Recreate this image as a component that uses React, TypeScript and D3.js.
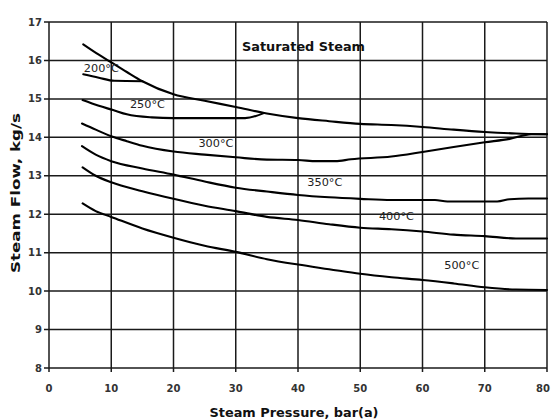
import React from "react";
import * as d3 from "d3";

type Pt = [number, number];

const xTicks = [0, 10, 20, 30, 40, 50, 60, 70, 80];
const yTicks = [8, 9, 10, 11, 12, 13, 14, 15, 16, 17];

const saturated: Pt[] = [
  [5.5, 16.42], [8, 16.15], [10, 15.95], [12.5, 15.7], [15, 15.46], [20, 15.12],
  [25, 14.95], [30, 14.79], [35, 14.62], [40, 14.5], [45, 14.42], [50, 14.35],
  [55, 14.32], [60, 14.27], [65, 14.2], [70, 14.14], [75, 14.1], [80, 14.08],
];
const t200: Pt[] = [[5.5, 15.64], [8, 15.55], [10.5, 15.47], [15, 15.46]];
const t250: Pt[] = [
  [5.4, 14.97], [8, 14.82], [10.3, 14.71], [12.5, 14.6], [16.5, 14.52], [20, 14.5],
  [25, 14.5], [31.5, 14.5], [34.5, 14.63],
];
const t300: Pt[] = [
  [5.3, 14.36], [7.5, 14.2], [10, 14.03], [12.5, 13.9], [15, 13.78], [20, 13.63],
  [25, 13.55], [30, 13.48], [35, 13.42], [40, 13.41], [43, 13.38], [46, 13.38],
  [48.5, 13.43], [55, 13.5], [60, 13.62], [65, 13.75], [70, 13.87], [74, 13.96],
  [77.5, 14.08], [80, 14.08],
];
const t350: Pt[] = [
  [5.3, 13.77], [7.5, 13.55], [10, 13.38], [15, 13.19], [20, 13.03], [25, 12.85],
  [30, 12.69], [35, 12.59], [40, 12.5], [45, 12.44], [50, 12.4], [55, 12.37],
  [62, 12.37], [64, 12.33], [72, 12.33], [74, 12.39], [77, 12.41], [80, 12.41],
];
const t400: Pt[] = [
  [5.4, 13.22], [7.5, 13.0], [10, 12.83], [15, 12.6], [20, 12.4], [25, 12.22],
  [30, 12.08], [35, 11.93], [40, 11.85], [45, 11.74], [50, 11.65], [55, 11.61],
  [60, 11.55], [65, 11.47], [70, 11.43], [75, 11.37], [80, 11.37],
];
const t500: Pt[] = [
  [5.4, 12.28], [7.5, 12.08], [10, 11.93], [15, 11.63], [20, 11.39], [25, 11.18],
  [30, 11.02], [35, 10.83], [40, 10.69], [45, 10.57], [50, 10.45], [55, 10.36],
  [60, 10.29], [65, 10.2], [70, 10.1], [75, 10.04], [80, 10.03],
];

const seriesList: Pt[][] = [saturated, t200, t250, t300, t350, t400, t500];

const curveLabels = ["200°C", "250°C", "300°C", "350°C", "400°C", "500°C"];
const curveLabelPos: Pt[] = [
  [5.6, 15.7], [13, 14.77], [24, 13.76], [41.5, 12.73], [53, 11.85], [63.5, 10.57],
];

const chartTitle = "Saturated Steam";
const xTitle = "Steam Pressure, bar(a)";
const yTitle = "Steam Flow, kg/s";

export default function App() {
  const W = 551, H = 420;
  const x = d3.scaleLinear().domain([0, 80]).range([49, 547]);
  const y = d3.scaleLinear().domain([8, 17]).range([368, 22]);
  const line = d3
    .line<Pt>()
    .x((d) => x(d[0]))
    .y((d) => y(d[1]))
    .curve(d3.curveMonotoneX);

  const font = "'DejaVu Sans', sans-serif";

  return (
    <svg
      width={W}
      height={H}
      style={{ position: "absolute", left: 0, top: 0, background: "#fff" }}
    >
      <rect x={0} y={0} width={W} height={H} fill="#fff" />
      {xTicks.map((t) => (
        <line key={"gx" + t} x1={x(t)} x2={x(t)} y1={y(17)} y2={y(8) + 4}
          stroke="#1a1a1a" strokeWidth={1.5} />
      ))}
      {yTicks.map((t) => (
        <line key={"gy" + t} x1={x(0) - 5} x2={x(80)} y1={y(t)} y2={y(t)}
          stroke="#1a1a1a" strokeWidth={1.5} />
      ))}
      {seriesList.map((s, i) => (
        <path key={"s" + i} d={line(s) || ""} fill="none" stroke="#000"
          strokeWidth={2.1} strokeLinejoin="round" strokeLinecap="round" />
      ))}
      {curveLabels.map((l, i) => (
        <text key={"l" + i} x={x(curveLabelPos[i][0])} y={y(curveLabelPos[i][1])}
          fontFamily={font} fontSize={11} fill="#222" textLength={35}
          lengthAdjust="spacingAndGlyphs">
          {l}
        </text>
      ))}
      <text x={242} y={51} fontFamily={font} fontSize={13} fontWeight="bold"
        fill="#111" textLength={123} lengthAdjust="spacingAndGlyphs">
        {chartTitle}
      </text>
      {xTicks.map((t) => (
        <text key={"tx" + t} x={Math.min(x(t), W - 8)} y={392} textAnchor="middle"
          fontFamily={font} fontSize={10} fontWeight="bold" fill="#333">
          {t}
        </text>
      ))}
      {yTicks.map((t) => (
        <text key={"ty" + t} x={42} y={y(t) + 3.5} textAnchor="end" fontFamily={font}
          fontSize={10} fontWeight="bold" fill="#333">
          {t}
        </text>
      ))}
      <text x={294} y={417} textAnchor="middle" fontFamily={font} fontSize={13}
        fontWeight="bold" fill="#111" textLength={169} lengthAdjust="spacingAndGlyphs">
        {xTitle}
      </text>
      <text transform={`translate(20,193) rotate(-90)`} textAnchor="middle"
        fontFamily={font} fontSize={13} fontWeight="bold" fill="#111"
        textLength={160} lengthAdjust="spacingAndGlyphs">
        {yTitle}
      </text>
    </svg>
  );
}
